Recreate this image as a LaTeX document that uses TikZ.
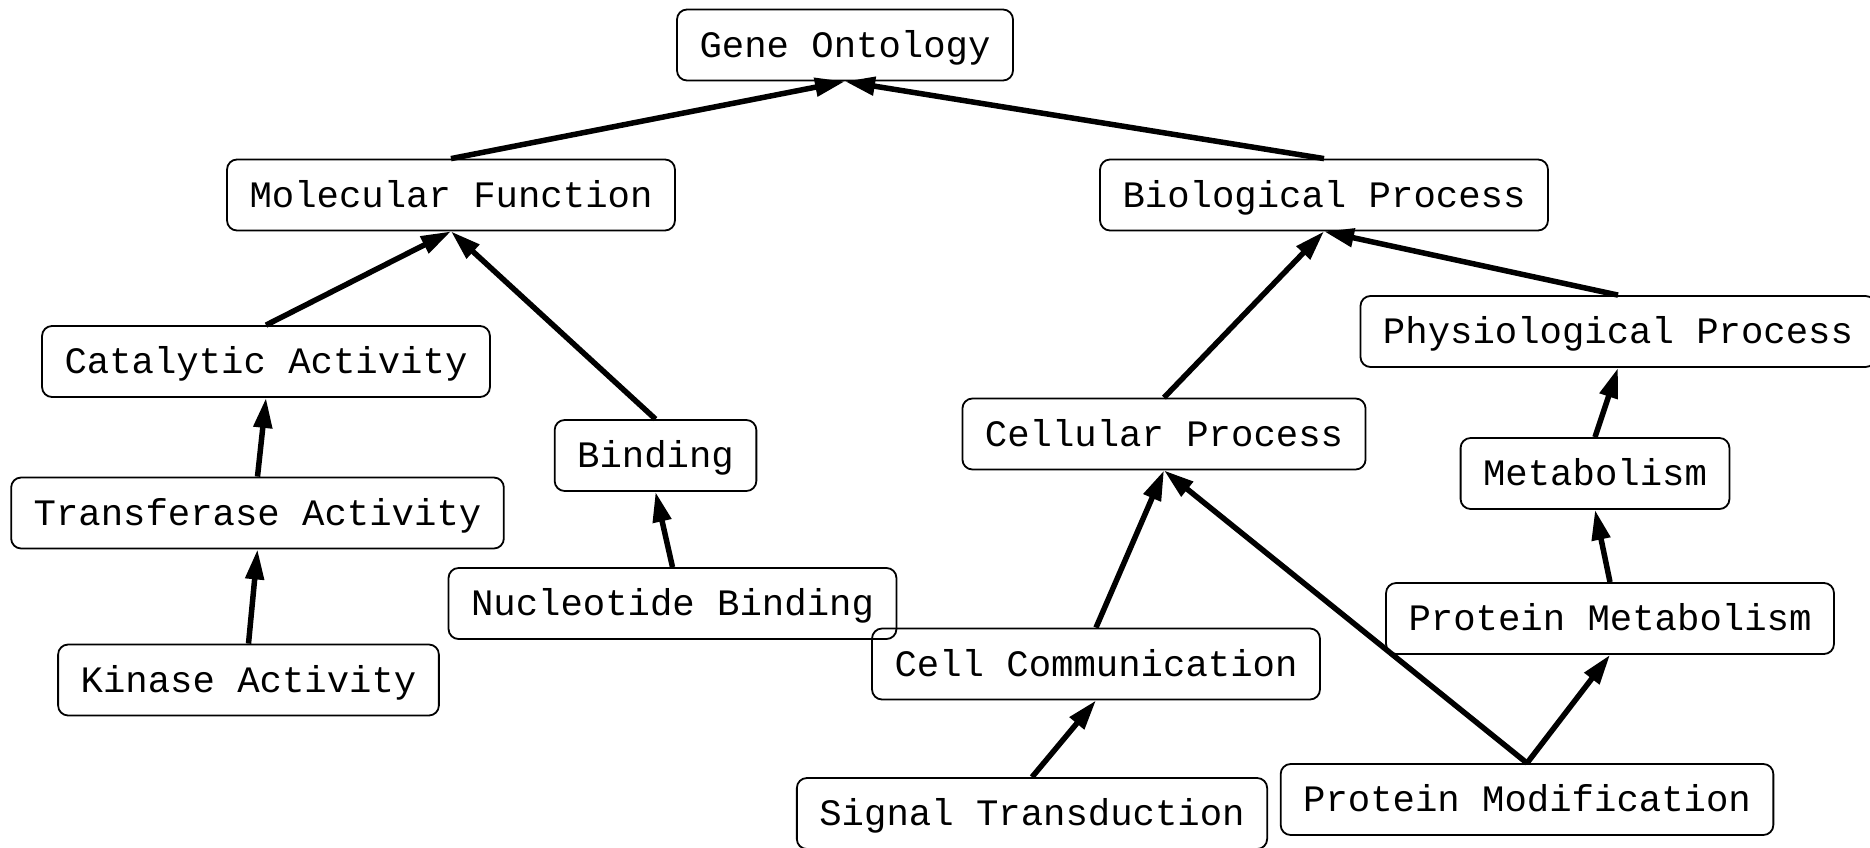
\documentclass[tikz,border=0pt]{standalone}
\usepackage{fontspec}
\setmonofont{Liberation Mono}
\usetikzlibrary{arrows.meta}
\begin{document}
\begin{tikzpicture}[x=1pt,y=-1pt,
  box/.style={draw, line width=1.8pt, rounded corners=10pt, minimum height=71pt,
    inner xsep=22.5pt, inner ysep=0pt, text height=24.6pt, text depth=0pt,
    font=\fontsize{37.3}{40}\selectfont\ttfamily},
  link/.style={line width=5.5pt, -{Triangle[length=30pt,width=18pt]}}]
\useasboundingbox (0,0) rectangle (1870,848);
\clip (0,0) rectangle (1870,848);
\node[box] (go)    at (845,45)      {Gene Ontology};
\node[box] (mf)    at (451,195)     {Molecular Function};
\node[box] (bp)    at (1324,195)    {Biological Process};
\node[box] (cat)   at (266,361.5)   {Catalytic Activity};
\node[box] (trans) at (257.5,513)   {Transferase Activity};
\node[box] (kin)   at (248.5,680)   {Kinase Activity};
\node[box] (bind)  at (655.5,455.5) {Binding};
\node[box] (nuc)   at (672.5,603.5) {Nucleotide Binding};
\node[box] (cp)    at (1164,434)    {Cellular Process};
\node[box] (phys)  at (1618,331.5)  {Physiological Process};
\node[box] (met)   at (1595,473.5)  {Metabolism};
\node[box] (pm)    at (1610,618.5)  {Protein Metabolism};
\node[box] (cc)    at (1096,664)    {Cell Communication};
\node[box] (st)    at (1032,813.5)  {Signal Transduction};
\node[box] (pmod)  at (1527,799.5)  {Protein Modification};
\draw[link] (mf.north) -- (go.south);
\draw[link] (bp.north) -- (go.south);
\draw[link] (cat.north) -- (mf.south);
\draw[link] (bind.north) -- (mf.south);
\draw[link] (trans.north) -- (cat.south);
\draw[link] (kin.north) -- (trans.south);
\draw[link] (nuc.north) -- (bind.south);
\draw[link] (cp.north) -- (bp.south);
\draw[link] (phys.north) -- (bp.south);
\draw[link] (met.north) -- (phys.south);
\draw[link] (pm.north) -- (met.south);
\draw[link] (pmod.north) -- (pm.south);
\draw[link] (pmod.north) -- (cp.south);
\draw[link] (cc.north) -- (cp.south);
\draw[link] (st.north) -- (cc.south);
\end{tikzpicture}
\end{document}
